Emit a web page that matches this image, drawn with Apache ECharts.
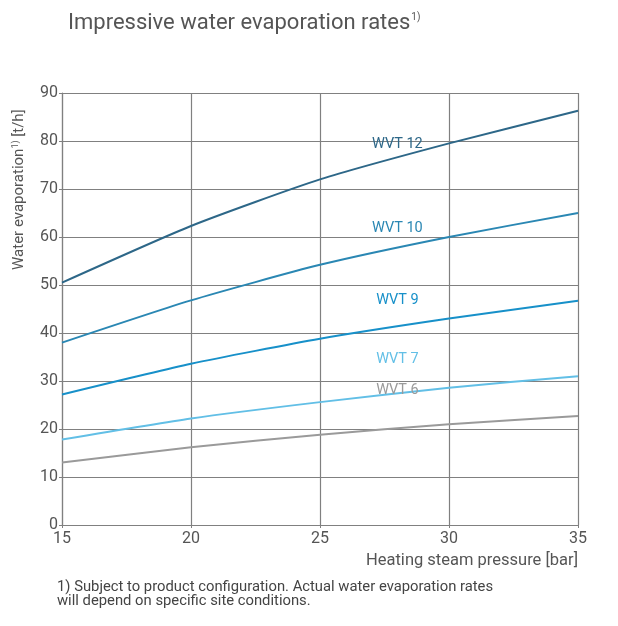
<!DOCTYPE html>
<html><head><meta charset="utf-8">
<script src="https://cdn.jsdelivr.net/npm/echarts@6/dist/echarts.min.js"></script>
<style>html,body{margin:0;padding:0;background:#fff}#c{width:618px;height:626px}</style>
</head><body><div id="c"></div>
<script>
const pressure = [15, 20, 25, 30, 35];
const wvt12 = [50.5, 62.3, 72.0, 79.5, 86.3];
const wvt10 = [38.0, 46.8, 54.2, 60.0, 65.0];
const wvt9  = [27.2, 33.6, 38.8, 43.0, 46.7];
const wvt7  = [17.8, 22.2, 25.6, 28.6, 31.0];
const wvt6  = [13.0, 16.2, 18.8, 21.0, 22.7];
const seriesNames = ['WVT 12', 'WVT 10', 'WVT 9', 'WVT 7', 'WVT 6'];
const labelPos = [[28, 79.2], [28, 61.7], [28, 46.9], [28, 34.6], [28, 28.1]];
const colors = ['#2d6788', '#2a87b3', '#1790c9', '#62bfe6', '#9a9a9a'];
const allData = [wvt12, wvt10, wvt9, wvt7, wvt6];
const font = 'Roboto, "Liberation Sans", sans-serif';

const chart = echarts.init(document.getElementById('c'));
chart.setOption({
  animation: false,
  textStyle: { fontFamily: font },
  title: {
    text: '{m|Impressive water evaporation rates}{s|1)}',
    left: 63, top: 7,
    textStyle: {
      fontWeight: 'normal',
      rich: {
        m: { fontSize: 22, color: '#555', fontFamily: font, fontWeight: 'normal' },
        s: { fontSize: 10, color: '#555', fontFamily: font, fontWeight: 'normal', verticalAlign: 'top', padding: [0, 0, 12, 1] }
      }
    }
  },
  grid: { left: 62, right: 40, top: 93, bottom: 101 },
  xAxis: {
    type: 'value', min: 15, max: 35, interval: 5,
    axisLine: { show: true, lineStyle: { color: '#808080', width: 1.2 } },
    axisTick: { show: true, length: 3, lineStyle: { color: '#808080' } },
    axisLabel: { color: '#555', fontSize: 16, margin: 6 },
    splitLine: { show: true, lineStyle: { color: '#808080', width: 1.2 } }
  },
  yAxis: {
    type: 'value', min: 0, max: 90, interval: 10,
    axisLine: { show: true, lineStyle: { color: '#808080', width: 1.2 } },
    axisTick: { show: true, length: 3, lineStyle: { color: '#808080' } },
    axisLabel: { color: '#555', fontSize: 16, margin: 4 },
    splitLine: { show: true, lineStyle: { color: '#808080', width: 1.2 } }
  },
  graphic: [
    { type: 'text', x: 578, y: 552, style: { text: 'Heating steam pressure [bar]', fill: '#555', fontSize: 16.5, fontFamily: font, textAlign: 'right' } },
    { type: 'text', x: 57, y: 580, style: { text: '1) Subject to product configuration. Actual water evaporation rates\nwill depend on specific site conditions.', fill: '#444', fontSize: 14.8, lineHeight: 14, fontFamily: font } },
    { type: 'text', x: 11, y: 270, rotation: Math.PI / 2,
      style: { text: '{m|Water evaporation}{s|1)}{m| [t/h]}', fill: '#555', fontFamily: font,
        rich: { m: { fontSize: 15, fill: '#555', fontFamily: font }, s: { fontSize: 9, fill: '#555', fontFamily: font, verticalAlign: 'top', padding: [0, 0, 8, 0] } } } }
  ],
  series: allData.map((d, i) => ({
    name: seriesNames[i],
    type: 'line',
    data: pressure.map((p, j) => [p, d[j]]),
    symbol: 'none',
    smooth: 0.2,
    lineStyle: { color: colors[i], width: 2 },
    markPoint: {
      symbol: 'circle', symbolSize: 0,
      data: [{ coord: labelPos[i], value: seriesNames[i] }],
      label: { show: true, position: 'inside', formatter: seriesNames[i], color: colors[i], fontSize: 14.5, fontFamily: font }
    }
  }))
});
</script></body></html>
